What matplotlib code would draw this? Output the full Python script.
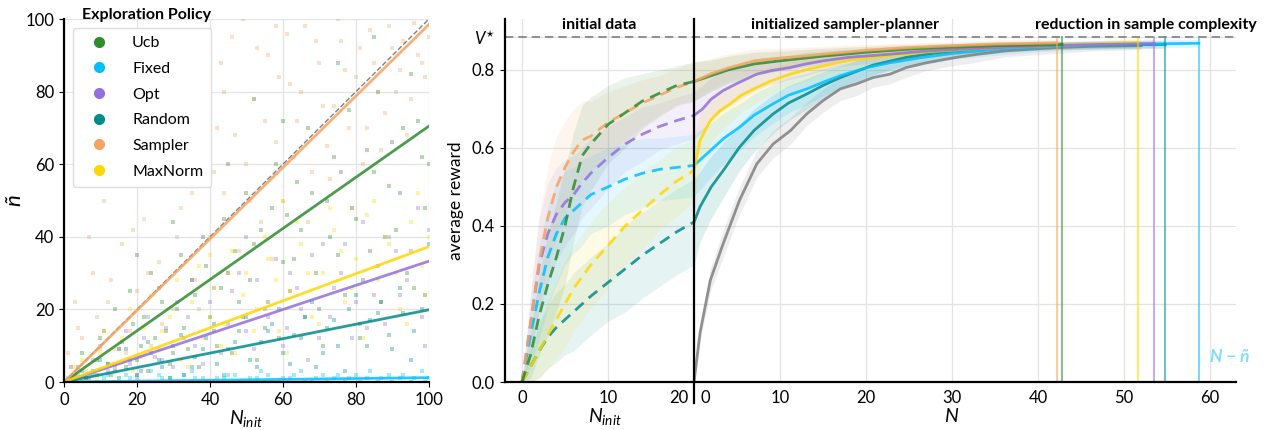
import numpy as np
import matplotlib
matplotlib.use("Agg")
import matplotlib.pyplot as plt
from matplotlib.transforms import blended_transform_factory

# -------------------------------------------------------------
# Config
# -------------------------------------------------------------
plt.rcParams['font.family'] = ['Lato', 'DejaVu Sans']
plt.rcParams['mathtext.fontset'] = 'custom'
plt.rcParams['mathtext.rm'] = 'Lato'
plt.rcParams['mathtext.it'] = 'Lato:italic'
plt.rcParams['mathtext.bf'] = 'Lato:bold'
plt.rcParams['font.size'] = 11

policies = ["Ucb", "Fixed", "Opt", "Random", "Sampler", "MaxNorm"]
colors = {"Ucb": "#2e8b2e", "Fixed": "#00bfff", "Opt": "#9370db",
          "Random": "#008b8b", "Sampler": "#f4a460", "MaxNorm": "#ffd700"}

# -------------------------------------------------------------
# Left panel data: n_tilde vs N_init (points read off the cloud)
# -------------------------------------------------------------
ucb_x = [3, 5, 8, 10, 12, 14, 15, 18, 20, 22, 24, 25, 27, 30, 32, 33, 35, 38, 40, 42, 44, 45, 48, 50, 52,
         55, 57, 58, 60, 62, 64, 65, 67, 70, 72, 74, 75, 78, 80, 82, 85, 86, 88, 90, 92, 94, 95, 97, 99, 100,
         6, 9, 11, 13, 16, 17, 19, 21, 23, 26, 28, 29, 31, 34, 36, 37, 39, 41, 43, 46, 47, 49, 51, 53, 54,
         56, 59, 61, 63, 66, 68, 69, 71, 73, 76, 77, 79, 81, 83, 84, 87, 89, 91, 93, 96, 98, 100, 45, 60,
         75, 52, 85, 30, 20]
ucb_y = [2, 8, 3, 12, 5, 20, 9, 25, 6, 18, 30, 12, 22, 8, 35, 15, 28, 40, 18, 10, 45, 30, 22, 52, 38,
         15, 48, 60, 33, 25, 55, 42, 70, 20, 50, 62, 35, 75, 45, 28, 58, 80, 40, 66, 52, 30, 85, 72, 48, 60,
         1, 6, 14, 2, 11, 4, 16, 10, 3, 26, 14, 5, 20, 9, 24, 4, 32, 14, 26, 8, 36, 18, 28, 6, 42,
         22, 12, 46, 34, 18, 52, 30, 10, 40, 58, 24, 48, 16, 64, 36, 22, 54, 42, 70, 26, 62, 38, 60, 72,
         88, 78, 95, 44, 35]
sampler_x = [2, 4, 6, 8, 10, 12, 14, 16, 18, 20, 22, 24, 26, 28, 30, 32, 34, 36, 38, 40, 42, 44, 46, 48, 50,
             52, 54, 56, 58, 60, 62, 64, 66, 68, 70, 72, 74, 76, 78, 80, 82, 84, 86, 88, 90, 92, 94, 96, 98, 100,
             1, 3, 5, 7, 9, 11, 13, 15, 17, 19, 21, 23, 25, 27, 29, 31, 33, 35, 37, 39, 41, 43, 45, 47, 49,
             51, 53, 55, 57, 59, 61, 63, 65, 67, 69, 71, 73, 75, 77, 79, 81, 83, 85, 87, 89, 91, 93, 95, 97, 99,
             44, 36, 58, 30]
sampler_y = [4, 15, 3, 30, 9, 22, 5, 38, 14, 25, 45, 10, 33, 55, 20, 48, 62, 28, 85, 40, 70, 52, 95, 36, 60,
             78, 44, 90, 66, 50, 82, 72, 98, 58, 88, 65, 76, 94, 70, 84, 60, 97, 80, 74, 92, 86, 68, 99, 88, 95,
             8, 22, 12, 40, 18, 50, 28, 60, 8, 42, 70, 30, 85, 16, 65, 40, 92, 52, 20, 75, 58, 88, 30, 68, 100,
             50, 92, 72, 34, 84, 96, 62, 80, 44, 94, 76, 56, 100, 86, 48, 92, 70, 88, 64, 98, 80, 94, 78, 90, 84,
             80, 70, 98, 55]
opt_x = [4, 8, 12, 15, 18, 22, 25, 28, 30, 34, 36, 40, 43, 46, 50, 53, 56, 60, 62, 65, 68, 70, 74, 77, 80,
         83, 86, 89, 92, 95, 98, 100,
         2, 6, 10, 14, 17, 20, 23, 27, 31, 33, 38, 41, 45, 48, 52, 55, 58, 61, 64, 67, 71, 73, 76, 79, 82,
         85, 88, 91, 94, 97, 99, 50, 35]
opt_y = [2, 6, 3, 9, 5, 12, 7, 15, 4, 18, 10, 22, 8, 25, 14, 28, 18, 10, 30, 20, 35, 12, 26, 38, 22,
         15, 32, 40, 24, 36, 18, 42,
         4, 1, 10, 4, 14, 2, 18, 6, 22, 12, 5, 26, 16, 30, 9, 20, 34, 15, 26, 6, 38, 18, 30, 12, 44,
         24, 16, 36, 28, 48, 10, 40, 28]
maxnorm_x = [3, 7, 10, 13, 16, 19, 22, 26, 29, 32, 35, 38, 41, 44, 47, 50, 53, 56, 59, 62, 65, 68, 71, 74,
             77, 80, 83, 86, 89, 92, 95, 98, 100,
             5, 9, 11, 14, 18, 21, 24, 27, 31, 34, 37, 40, 43, 46, 49, 52, 55, 58, 61, 64, 67, 70, 73, 76,
             79, 82, 85, 88, 91, 94, 97, 99, 60, 40]
maxnorm_y = [4, 2, 8, 5, 12, 3, 15, 9, 18, 6, 22, 12, 26, 16, 8, 30, 20, 34, 14, 25, 38, 18, 30, 42,
             22, 34, 46, 28, 38, 20, 44, 32, 40,
             6, 1, 14, 9, 20, 7, 24, 14, 28, 4, 32, 18, 10, 36, 24, 14, 40, 28, 8, 44, 30, 16, 48, 36,
             26, 12, 50, 40, 30, 16, 52, 24, 50, 35]
random_x = [2, 5, 9, 12, 15, 18, 21, 24, 27, 30, 33, 36, 39, 42, 45, 48, 51, 54, 57, 60, 63, 66, 69, 72,
            75, 78, 81, 84, 87, 90, 93, 96, 99,
            4, 7, 10, 14, 17, 20, 23, 26, 29, 32, 35, 38, 41, 44, 47, 50, 53, 56, 59, 62, 65, 68, 71, 74,
            77, 80, 83, 86, 89, 92, 95, 98]
random_y = [1, 3, 2, 5, 1, 6, 3, 8, 4, 10, 2, 7, 12, 5, 9, 14, 6, 11, 16, 8, 13, 18, 4, 15,
            10, 20, 12, 17, 22, 9, 19, 14, 24,
            4, 1, 6, 3, 9, 2, 11, 6, 1, 13, 4, 9, 16, 2, 11, 18, 4, 14, 20, 5, 12, 22, 8, 17,
            3, 24, 10, 19, 13, 26, 6, 20]
fixed_x = [3, 6, 9, 12, 15, 18, 21, 24, 27, 30, 33, 36, 39, 42, 45, 48, 51, 54, 57, 60, 63, 66, 69, 72,
           75, 78, 81, 84, 87, 90, 93, 96, 99,
           1, 5, 8, 11, 14, 17, 20, 23, 26, 29, 32, 35, 38, 41, 44, 47, 50, 53, 56, 59, 62, 65, 68, 71,
           74, 77, 80, 83, 86, 89, 92, 95, 98, 100]
fixed_y = [0, 1, 0, 2, 0, 1, 0, 3, 1, 0, 2, 1, 0, 1, 2, 0, 1, 3, 0, 1, 2, 0, 1, 0,
           2, 1, 0, 3, 1, 0, 2, 1, 0,
           1, 0, 2, 1, 0, 2, 1, 0, 2, 1, 0, 3, 1, 0, 1, 2, 0, 1, 2, 0, 1, 3, 0, 2,
           1, 0, 2, 1, 0, 2, 1, 0, 3, 1]

scatter = {"Ucb": (ucb_x, ucb_y), "Fixed": (fixed_x, fixed_y), "Opt": (opt_x, opt_y),
           "Random": (random_x, random_y), "Sampler": (sampler_x, sampler_y),
           "MaxNorm": (maxnorm_x, maxnorm_y)}
# slopes of the linear fits (n_tilde at N_init = 100, divided by 100)
fit_slopes = {"Ucb": 0.705, "Fixed": 0.012, "Opt": 0.333, "Random": 0.199,
              "Sampler": 0.985, "MaxNorm": 0.373}

# -------------------------------------------------------------
# Right panel data: average reward
# -------------------------------------------------------------
V_star = 0.885
n_init = [0, 1, 2, 3, 4, 5, 6, 7, 8, 10, 12, 14, 16, 18, 20]
init_mean = {
    "Ucb":     [0, 0.07, 0.17, 0.25, 0.32, 0.40, 0.50, 0.58, 0.61, 0.66, 0.69, 0.72, 0.74, 0.76, 0.77],
    "Sampler": [0, 0.15, 0.31, 0.42, 0.50, 0.55, 0.59, 0.62, 0.63, 0.665, 0.69, 0.715, 0.735, 0.755, 0.77],
    "Opt":     [0, 0.15, 0.30, 0.38, 0.43, 0.46, 0.48, 0.51, 0.535, 0.575, 0.61, 0.635, 0.655, 0.67, 0.683],
    "Fixed":   [0, 0.12, 0.23, 0.32, 0.38, 0.42, 0.44, 0.46, 0.48, 0.50, 0.52, 0.535, 0.545, 0.55, 0.555],
    "MaxNorm": [0, 0.04, 0.08, 0.12, 0.16, 0.20, 0.24, 0.27, 0.30, 0.35, 0.40, 0.44, 0.48, 0.515, 0.542],
    "Random":  [0, 0.04, 0.08, 0.115, 0.14, 0.16, 0.18, 0.20, 0.22, 0.255, 0.29, 0.325, 0.355, 0.385, 0.41],
}
init_std = {
    "Ucb":     [0, 0.06, 0.10, 0.13, 0.14, 0.15, 0.14, 0.13, 0.12, 0.10, 0.09, 0.07, 0.06, 0.05, 0.05],
    "Sampler": [0, 0.08, 0.12, 0.13, 0.13, 0.12, 0.11, 0.10, 0.09, 0.08, 0.07, 0.06, 0.05, 0.05, 0.05],
    "Opt":     [0, 0.08, 0.12, 0.13, 0.12, 0.11, 0.10, 0.09, 0.09, 0.08, 0.07, 0.07, 0.06, 0.06, 0.06],
    "Fixed":   [0, 0.08, 0.12, 0.13, 0.13, 0.12, 0.11, 0.11, 0.10, 0.10, 0.09, 0.09, 0.08, 0.08, 0.08],
    "MaxNorm": [0, 0.04, 0.07, 0.09, 0.10, 0.11, 0.11, 0.11, 0.11, 0.11, 0.10, 0.10, 0.09, 0.09, 0.08],
    "Random":  [0, 0.04, 0.07, 0.08, 0.09, 0.09, 0.10, 0.10, 0.10, 0.10, 0.11, 0.11, 0.11, 0.11, 0.11],
}

run_n = {
    "Ucb":     [0, 2, 4, 7, 10, 15, 20, 25, 30, 35, 42.8],
    "Sampler": [0, 2, 4, 7, 10, 15, 20, 25, 30, 35, 42.2],
    "Opt":     [0, 1, 2, 3.4, 5, 7.3, 9, 11.2, 13, 15, 18, 22.8, 27, 32, 37, 42, 47, 53.5],
    "MaxNorm": [0, 0.7, 1.9, 3, 4.2, 5.5, 7.3, 9, 11.2, 13, 15, 18, 22.8, 27, 32, 37, 42, 47, 51.6],
    "Fixed":   [0, 1.9, 3.5, 5.3, 7, 9.2, 11, 13.1, 15, 17, 20, 22.8, 26, 30, 35, 40, 45, 50, 55, 58.7],
    "Random":  [0, 0.7, 2, 3.4, 5.3, 7, 9.2, 11, 13.1, 15, 17, 20.8, 24.7, 28, 32.5, 36, 40.2, 45, 50, 54.8],
    "Baseline": [0, 0.7, 1.9, 3.4, 5.3, 7.3, 9.2, 11.2, 13.1, 15, 17, 18.9, 20.8, 22.8, 24.7, 27, 30.5, 33,
                 36.4, 40, 42.2, 46, 52],
}
run_mean = {
    "Ucb":     [0.77, 0.785, 0.80, 0.815, 0.823, 0.835, 0.845, 0.853, 0.858, 0.862, 0.865],
    "Sampler": [0.77, 0.79, 0.805, 0.823, 0.83, 0.84, 0.85, 0.857, 0.862, 0.866, 0.869],
    "Opt":     [0.683, 0.70, 0.725, 0.747, 0.765, 0.789, 0.798, 0.806, 0.815, 0.823, 0.832, 0.840, 0.848,
                0.854, 0.858, 0.862, 0.865, 0.867],
    "MaxNorm": [0.542, 0.619, 0.67, 0.695, 0.713, 0.735, 0.755, 0.772, 0.789, 0.80, 0.81, 0.824, 0.836,
                0.846, 0.853, 0.858, 0.862, 0.866, 0.87],
    "Fixed":   [0.555, 0.593, 0.625, 0.653, 0.684, 0.713, 0.735, 0.751, 0.768, 0.785, 0.805, 0.818, 0.83,
                0.842, 0.852, 0.858, 0.862, 0.865, 0.867, 0.868],
    "Random":  [0.41, 0.449, 0.50, 0.542, 0.602, 0.645, 0.687, 0.715, 0.738, 0.76, 0.78, 0.812, 0.832,
                0.843, 0.852, 0.857, 0.861, 0.863, 0.864, 0.865],
    "Baseline": [0, 0.126, 0.261, 0.355, 0.466, 0.559, 0.61, 0.644, 0.687, 0.721, 0.751, 0.764, 0.78,
                 0.789, 0.806, 0.818, 0.832, 0.84, 0.849, 0.854, 0.857, 0.86, 0.862],
}
run_std = {
    "Ucb":     [0.05, 0.04, 0.035, 0.03, 0.025, 0.02, 0.015, 0.012, 0.01, 0.01, 0.01],
    "Sampler": [0.05, 0.04, 0.035, 0.03, 0.025, 0.02, 0.015, 0.012, 0.01, 0.01, 0.01],
    "Opt":     [0.06, 0.06, 0.055, 0.05, 0.045, 0.04, 0.035, 0.03, 0.03, 0.025, 0.02, 0.02, 0.015,
                0.012, 0.01, 0.01, 0.01, 0.01],
    "MaxNorm": [0.08, 0.07, 0.06, 0.055, 0.05, 0.045, 0.04, 0.035, 0.03, 0.03, 0.025, 0.02, 0.02,
                0.015, 0.012, 0.01, 0.01, 0.01, 0.01],
    "Fixed":   [0.08, 0.07, 0.065, 0.06, 0.055, 0.05, 0.045, 0.04, 0.035, 0.03, 0.025, 0.02, 0.02,
                0.015, 0.015, 0.012, 0.01, 0.01, 0.01, 0.01],
    "Random":  [0.11, 0.09, 0.08, 0.07, 0.06, 0.055, 0.05, 0.045, 0.04, 0.035, 0.03, 0.025, 0.02,
                0.02, 0.015, 0.012, 0.01, 0.01, 0.01, 0.01],
    "Baseline": [0, 0.02, 0.03, 0.035, 0.035, 0.035, 0.035, 0.035, 0.03, 0.03, 0.03, 0.03, 0.025,
                 0.025, 0.025, 0.02, 0.02, 0.02, 0.015, 0.015, 0.015, 0.012, 0.01],
}
sample_complexity = {"Sampler": 42.2, "Ucb": 42.8, "MaxNorm": 51.6, "Opt": 53.5,
                     "Random": 54.8, "Fixed": 58.7}

x_ticks_init = [0, 10]
x_ticks_run = [10, 20, 30, 40, 50, 60]

# -------------------------------------------------------------
# Figure
# -------------------------------------------------------------
fig = plt.figure(figsize=(12.78, 4.30), dpi=100)
ax1 = fig.add_axes([0.050, 0.1116, 0.2856, 0.844])
ax2 = fig.add_axes([0.395, 0.1116, 0.572, 0.844])

for ax in (ax1, ax2):
    ax.spines['top'].set_visible(False)
    ax.spines['right'].set_visible(False)
    ax.spines['left'].set_linewidth(1.6)
    ax.spines['bottom'].set_linewidth(1.6)
    ax.grid(True, color='#e3e3e3', lw=0.9)
    ax.set_axisbelow(True)
    ax.tick_params(labelsize=12)

# ---- left panel
for p in policies:
    xs, ys = scatter[p]
    ax1.scatter(xs, ys, marker='s', s=6, color=colors[p], alpha=0.35, linewidths=0)
xx = np.array([0, 100])
ax1.plot(xx, xx, color='gray', ls='--', lw=1)
for p in policies:
    ax1.plot(xx, fit_slopes[p] * xx, color=colors[p], lw=2, alpha=0.85)
for p in policies:
    ax1.plot([], [], 'o', color=colors[p], ms=7, label=p)
ax1.set_xlim(0, 100)
ax1.set_ylim(0, 100)
ax1.set_xticks([0, 20, 40, 60, 80, 100])
ax1.set_yticks([0, 20, 40, 60, 80, 100])
ax1.set_xlabel(r'$N_{init}$', fontsize=14, labelpad=0)
ax1.set_ylabel('ñ', fontsize=16, fontstyle='italic', labelpad=1)
ax1.legend(loc='upper left', bbox_to_anchor=(0.025, 0.975), borderaxespad=0, fontsize=11.5,
           labelspacing=0.72, handletextpad=1.0, borderpad=0.5, handlelength=2.2,
           framealpha=1, edgecolor='#dddddd')
ax1.text(0.227, 1.011, 'Exploration Policy', transform=ax1.transAxes, ha='center', va='center',
         fontsize=11.5, fontweight='bold')

# ---- right panel
for p in ["Random", "MaxNorm", "Fixed", "Opt", "Sampler", "Ucb"]:
    x = np.array(n_init)
    m = np.array(init_mean[p])
    s = np.array(init_std[p])
    ax2.fill_between(x, m - s, m + s, color=colors[p], alpha=0.1, lw=0)
    ax2.plot(x, m, color=colors[p], ls='--', lw=2, alpha=0.85, dashes=(4, 2.5))

for p in ["Baseline", "Random", "Fixed", "MaxNorm", "Opt", "Ucb", "Sampler"]:
    c = 'gray' if p == "Baseline" else colors[p]
    x = 20 + np.array(run_n[p])
    m = np.array(run_mean[p])
    s = np.array(run_std[p])
    ax2.fill_between(x, m - s, m + s, color=c, alpha=0.13, lw=0)
    ax2.plot(x, m, color=c, lw=2, alpha=0.85)

for p, n in sample_complexity.items():
    ax2.plot([20 + n, 20 + n], [0, V_star], color=colors[p], lw=1.5, alpha=0.55)

ax2.axhline(V_star, color='gray', ls='--', lw=1.2, dashes=(5, 3))
ax2.axvline(20, ymin=-0.058, ymax=1, color='black', lw=1.6, clip_on=False, zorder=5)

ax2.set_xlim(-2, 83)
ax2.set_ylim(0, 0.93)
ax2.set_yticks([0, 0.2, 0.4, 0.6, 0.8, V_star])
ax2.set_yticklabels(['0.0', '0.2', '0.4', '0.6', '0.8', r'$V^{\star}$'])
ax2.get_yticklines()[-2].set_visible(False)

ticks = x_ticks_init + [20] + [20 + t for t in x_ticks_run]
labels = [str(t) for t in x_ticks_init] + [''] + [str(t) for t in x_ticks_run]
ax2.set_xticks(ticks)
ax2.set_xticklabels(labels)
ax2.tick_params(axis='x', length=0, pad=6)
bt = blended_transform_factory(ax2.transData, ax2.transAxes)
# the two labels that share the boundary at N_init = 20 / N = 0
ax2.annotate('20', xy=(19.3, 0), xycoords=bt, xytext=(0, -6), textcoords='offset points',
             ha='right', va='top', fontsize=12)
ax2.annotate('0', xy=(20.7, 0), xycoords=bt, xytext=(0, -6), textcoords='offset points',
             ha='left', va='top', fontsize=12)
ax2.set_ylabel('average reward', fontsize=12.5, labelpad=6)

ax2.text(9.7, -0.095, r'$N_{init}$', transform=bt, ha='center', va='center', fontsize=14)
ax2.text(50, -0.095, r'$N$', transform=bt, ha='center', va='center', fontsize=14)
ax2.text(9, 0.985, 'initial data', transform=bt, ha='center', va='center',
         fontsize=11.5, fontweight='bold')
ax2.text(37.5, 0.985, 'initialized sampler-planner', transform=bt, ha='center', va='center',
         fontsize=11.5, fontweight='bold')
ax2.text(72.5, 0.985, 'reduction in sample complexity', transform=bt, ha='center', va='center',
         fontsize=11.5, fontweight='bold', clip_on=False)
ax2.text(82.3, 0.065, 'N − ñ', ha='center', va='center', fontsize=12.5,
         fontweight='bold', fontstyle='italic', color=colors["Fixed"], alpha=0.5)

fig.savefig('out.png', dpi=100)
